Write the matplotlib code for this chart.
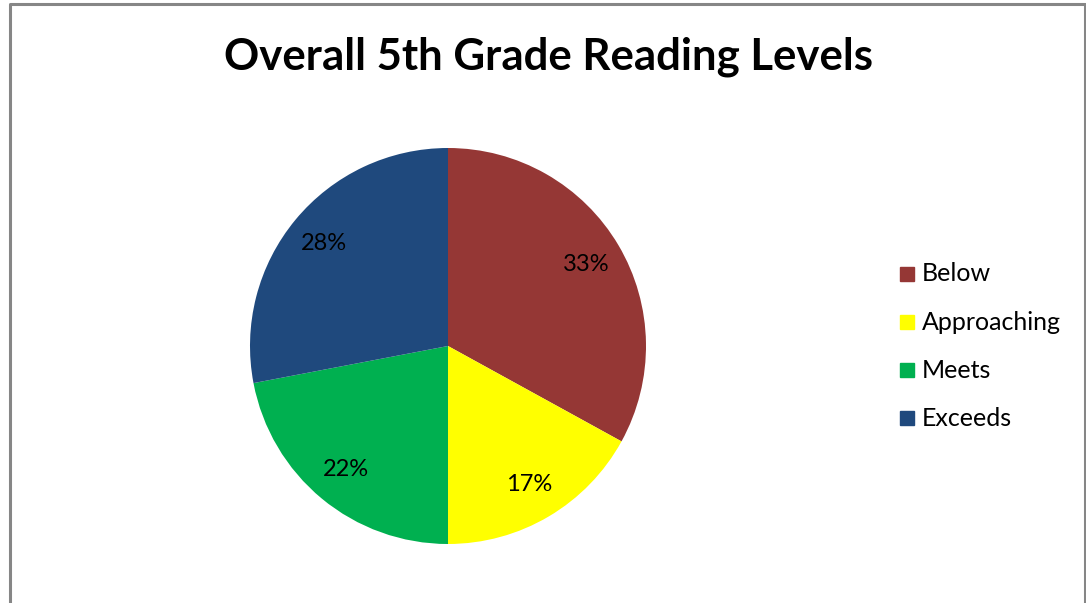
import matplotlib.pyplot as plt
from matplotlib.patches import Rectangle

labels = ["Below", "Approaching", "Meets", "Exceeds"]
values = [33, 17, 22, 28]
colors = ["#953735", "#FFFF00", "#00B050", "#1F497D"]

plt.rcParams['font.family'] = ['Lato', 'DejaVu Sans']

W, H = 1086, 603
fig = plt.figure(figsize=(W / 100, H / 100), dpi=100)

# grey outer frame (bottom edge is cut off in the reference)
fig.add_artist(plt.Line2D([10 / W, 10 / W, 1085 / W, 1085 / W],
                          [0, 1 - 4 / H, 1 - 4 / H, 0],
                          transform=fig.transFigure, color="#868686", lw=2.2))

fig.text(548 / W, 1 - 57 / H, "Overall 5th Grade Reading Levels",
         ha="center", va="center", fontsize=31.5, fontweight="bold")

cx, cy, r = 448, 346, 198
ax = fig.add_axes([(cx - r) / W, 1 - (cy + r) / H, 2 * r / W, 2 * r / H])
wedges, texts, autotexts = ax.pie(values, colors=colors, startangle=90,
                                  counterclock=False, autopct="%d%%",
                                  pctdistance=0.81,
                                  textprops=dict(fontsize=17, color="black"))
ax.set_xlim(-1, 1)
ax.set_ylim(-1, 1)
ax.set_aspect("equal")
ax.axis("off")

# legend
ys = [274, 322, 370, 418]
for lab, col, y in zip(labels, colors, ys):
    fig.add_artist(Rectangle((900 / W, 1 - (y + 7) / H), 14 / W, 14 / H,
                             transform=fig.transFigure, color=col))
    fig.text(922 / W, 1 - y / H, lab, ha="left", va="center", fontsize=18)

fig.savefig("out.png", dpi=100)
